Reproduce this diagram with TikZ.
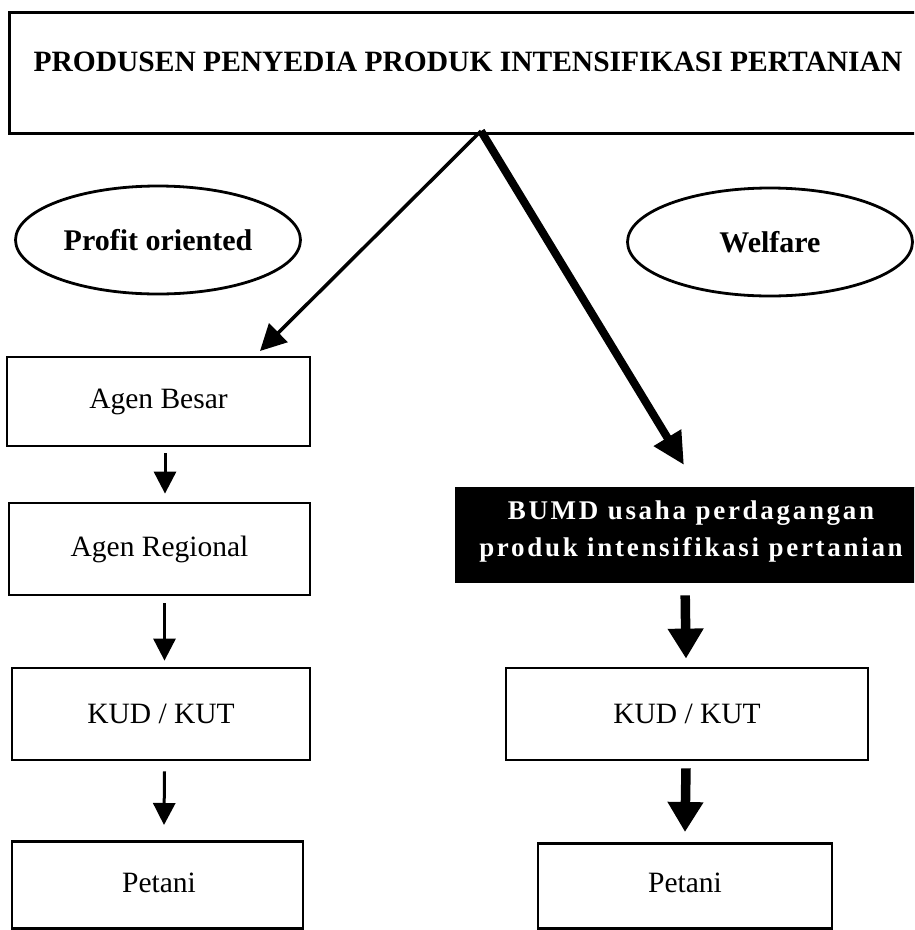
\documentclass[tikz,border=0pt]{standalone}
\usepackage{fontspec}
\setmainfont{Liberation Serif}
\newfontfamily\spacedserif[LetterSpace=10]{Liberation Serif}
\usetikzlibrary{arrows.meta,shapes.geometric}
\begin{document}
\begin{tikzpicture}[x=1pt,y=-1pt,
  box/.style={draw,line width=2.8pt,rectangle,inner sep=0pt,font=\fontsize{29.5}{34}\selectfont},
  oval/.style={draw,line width=2.8pt,ellipse,minimum width=285pt,minimum height=108pt,inner sep=0pt,font=\bfseries\fontsize{30}{36}\selectfont},
  thinarrow/.style={line width=3pt,-{Triangle[length=22pt,width=22pt]}},
  diagthin/.style={line width=3.5pt,-{Triangle[length=26pt,width=26pt]}},
  thickarrow/.style={line width=9.5pt,-{Triangle[length=30pt,width=34pt]}},
  diagthick/.style={line width=8pt,-{Triangle[length=32pt,width=30pt]}},
]
\useasboundingbox (0,0) rectangle (914,930);
\clip (0,0) rectangle (914,930);
\fill[white] (0,0) rectangle (914,930);

% title
\node[box,minimum width=920pt,minimum height=121pt,anchor=north west] (top) at (8,11) {};
\node[font=\bfseries\fontsize{29.5}{34}\selectfont,inner sep=0pt] (toptext) at (468,62) {PRODUSEN PENYEDIA PRODUK INTENSIFIKASI PERTANIAN};

% ellipses
\node[oval] (profit) at (158,240) {Profit oriented};
\node[oval] (welfare) at (770,242) {Welfare};

% left column
\node[box,minimum width=303pt,minimum height=89pt] (agb) at (158.5,401.5) {Agen Besar};
\node[box,minimum width=301pt,minimum height=92pt] (agr) at (159.5,549) {Agen Regional};
\node[box,minimum width=298pt,minimum height=92pt] (kudl) at (161,714) {KUD / KUT};
\node[box,minimum width=291pt,minimum height=87pt,anchor=north] (petl) at (157.5,840) {};
\node[font=\fontsize{29.5}{34}\selectfont,inner sep=0pt] (petltext) at (159,883) {Petani};

% right column
\node[fill=black,draw=black,minimum width=470pt,minimum height=95pt,anchor=north west,inner sep=0pt] (bumd) at (455,487) {};
\node[text=white,align=center,inner sep=0pt,font=\spacedserif\bfseries\fontsize{27}{37}\selectfont] (bumdtext) at (691,531) {BUMD usaha perdagangan\\produk intensifikasi pertanian};
\node[box,minimum width=362pt,minimum height=92pt] (kudr) at (687,714) {KUD / KUT};
\node[box,minimum width=294pt,minimum height=85pt,anchor=north] (petr) at (685,842) {};
\node[font=\fontsize{29.5}{34}\selectfont,inner sep=0pt] (petrtext) at (685,883) {Petani};

% connectors
\coordinate (apex) at (481,131);
\coordinate (tipL) at (260,351);
\coordinate (tipR) at (684,465);
\draw[diagthin] (apex) -- (tipL);
\draw[diagthick] (apex) -- (tipR);

\draw[thinarrow] ([xshift=6.5pt,yshift=-6pt]agb.south) -- ([xshift=5.5pt,yshift=8pt]agr.north);
\draw[thinarrow] ([xshift=5pt,yshift=-7pt]agr.south) -- ([xshift=3.5pt,yshift=6pt]kudl.north);
\draw[thinarrow] ([xshift=3.5pt,yshift=-10pt]kudl.south) -- ([xshift=6.5pt,yshift=15pt]petl.north);

\draw[thickarrow] ([xshift=-5pt,yshift=-13pt]bumd.south) -- ([xshift=-1pt,yshift=8pt]kudr.north);
\draw[thickarrow] ([xshift=-1pt,yshift=-7pt]kudr.south) -- ([yshift=10pt]petr.north);
\end{tikzpicture}
\end{document}
